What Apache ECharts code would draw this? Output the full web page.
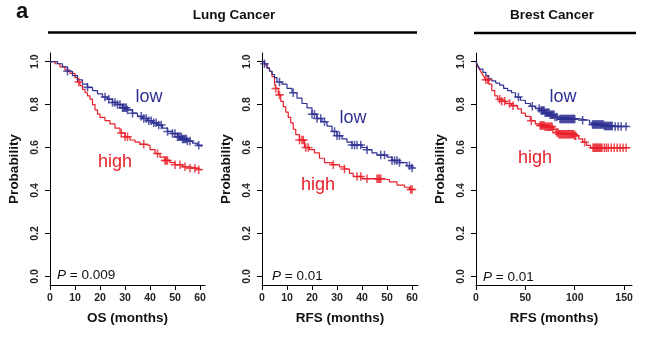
<!DOCTYPE html>
<html>
<head>
<meta charset="utf-8">
<script src="https://cdn.jsdelivr.net/npm/echarts@6/dist/echarts.min.js"></script>
<style>
html,body{margin:0;padding:0;background:#fff;}
#chart{width:652px;height:351px;}
</style>
</head>
<body>
<div id="chart"></div>
<script>
// step points [time, survival]
var osLow=[[0,1],[3,0.99],[5,0.975],[7,0.955],[9,0.935],[11,0.915],[13,0.895],[15,0.88],[17,0.865],[19,0.85],[21,0.835],[23,0.825],[25,0.81],[27,0.8],[29,0.785],[31,0.775],[33,0.76],[35,0.745],[37,0.735],[39,0.725],[41,0.715],[43,0.705],[45,0.69],[47,0.675],[49,0.665],[51,0.65],[53,0.64],[55,0.63],[57,0.62],[59,0.61],[60.5,0.603]];
var osHigh=[[0,1],[2,0.99],[4,0.975],[6,0.96],[8,0.945],[10,0.925],[11,0.905],[12,0.888],[13,0.87],[14,0.855],[15,0.84],[16,0.825],[17,0.8],[18,0.775],[19,0.755],[20,0.74],[22,0.725],[24,0.71],[26,0.69],[28,0.668],[30,0.65],[32,0.635],[34,0.625],[36,0.615],[38,0.61],[40,0.59],[42,0.572],[44,0.555],[46,0.54],[48,0.53],[50,0.52],[53,0.51],[56,0.503],[59,0.497],[60.5,0.497]];
var lungRfsLow=[[0,1],[1,0.99],[2,0.97],[3,0.955],[4,0.94],[5,0.925],[6,0.905],[8,0.895],[10,0.875],[12,0.855],[14,0.83],[16,0.805],[18,0.785],[20,0.755],[22,0.735],[24,0.72],[26,0.7],[28,0.675],[30,0.655],[32,0.64],[34,0.625],[36,0.612],[40,0.6],[42,0.59],[44,0.575],[46,0.565],[50,0.555],[52,0.54],[55,0.53],[58,0.515],[60,0.505],[61,0.505]];
var lungRfsHigh=[[0,1],[1,0.985],[2,0.97],[3,0.955],[4,0.93],[5,0.9],[5.5,0.875],[6.5,0.845],[7.5,0.815],[8.5,0.79],[9.5,0.765],[10.5,0.74],[11.5,0.715],[12.5,0.685],[13.5,0.66],[15,0.635],[17,0.6],[19,0.59],[21,0.575],[23,0.55],[25,0.53],[28,0.52],[31,0.51],[33,0.5],[35,0.48],[36.5,0.465],[40,0.455],[48,0.45],[51,0.44],[54,0.425],[57,0.415],[59,0.405],[61,0.405]];
var breastLow=[[0,1],[2,0.98],[4,0.965],[7,0.95],[10,0.935],[13,0.92],[16,0.91],[20,0.9],[24,0.89],[28,0.875],[32,0.865],[36,0.855],[40,0.835],[45,0.82],[50,0.805],[55,0.792],[60,0.782],[65,0.772],[70,0.762],[75,0.752],[80,0.742],[85,0.733],[105,0.727],[115,0.715],[118,0.707],[130,0.7],[140,0.698],[154,0.698]];
var breastHigh=[[0,1],[2,0.975],[4,0.96],[6,0.945],[8,0.93],[10,0.915],[13,0.895],[16,0.865],[19,0.84],[22,0.825],[26,0.815],[30,0.805],[36,0.795],[42,0.78],[46,0.76],[50,0.745],[55,0.725],[60,0.71],[64,0.703],[70,0.697],[78,0.685],[81,0.67],[84,0.662],[100,0.655],[104,0.64],[108,0.625],[112,0.61],[116,0.599],[156,0.599]];

// censor times
var osLowCens=[7,15,22,23.5,25,26,27,28,29,29.5,30,30.5,31,33,36.5,37.5,38.5,39.5,40.5,41.5,42.5,43.5,44.5,47,49,50,51,51.5,52,52.5,53,53.5,54,54.5,55,56,59.5];
var osHighCens=[11.5,28.5,30,31,37.5,43,46,46.5,47,50,52,54,56,58,59.5];
var lungRfsLowCens=[1,7,12.5,20,21,22,23.5,25,29,30,31,36,37,38,39.5,42,47.5,49,52,53,54,55,59,60];
var lungRfsHighCens=[5.5,7,15,16,16.5,17.5,18.5,28.5,33,38,39.5,42,46,46.5,47,47.5,59.5,60];
var breastLowCens=[43,57,64,66,67,68,69,70,71,72,73,74,75,76,77,78,79,80,82,85,86,87,88,89,90,91,92,93,94,95,96,97,98,99,100,108,118,119,120,121,122,123,124,125,126,127,128,129,130,131,132,133,134,135,136,137,138,141,144,147,152];
var breastHighCens=[10,12,24,26,29,34,37.5,56,65,66,67,68,69,70,71,72,73,74,75,76,77,78,82,83,84,85,86,87,88,89,90,91,92,93,94,95,96,97,98,99,100,101,110,118.5,119.5,120.5,121.5,122.5,123.5,124.5,125.5,126.5,127.5,130,132,134,137,140,143,146,149,152];

var yTicks=[0,0.2,0.4,0.6,0.8,1.0];
var lungXTicks=[0,10,20,30,40,50,60];
var breastXTicks=[0,50,100,150];
var xNames=['OS (months)','RFS (months)','RFS (months)'];

var BLUE='#2e3192', RED='#e8202a';
var FONT='Liberation Sans, Arial, sans-serif';
var PLUS='path://M0,4.1H4.1V0H5.9V4.1H10V5.9H5.9V10H4.1V5.9H0Z';

function survAt(curve,t){
	var s=1;
	for(var i=0;i<curve.length;i++){ if(curve[i][0]<=t) s=curve[i][1]; }
	return s;
}
function censData(curve,times){
	return times.map(function(t){ return [t,survAt(curve,t)]; });
}

var grids=[
	{left:50,top:53,width:155,height:232},
	{left:262,top:53,width:156,height:232},
	{left:476,top:53,width:156,height:232}
];
var xMax=[62,62.4,158];
var xTicks=[lungXTicks,lungXTicks,breastXTicks];

var xAxes=[],yAxes=[];
for(var i=0;i<3;i++){
	xAxes.push({
		type:'value',gridIndex:i,min:0,max:xMax[i],
		name:xNames[i],nameLocation:'middle',nameGap:26,
		nameTextStyle:{fontFamily:FONT,fontWeight:'bold',fontSize:13.5,color:'#111'},
		axisLine:{onZero:false,lineStyle:{color:'#000',width:1}},
		axisTick:{show:true,length:5,customValues:xTicks[i],lineStyle:{color:'#000'}},
		axisLabel:{customValues:xTicks[i],margin:8,fontFamily:FONT,fontWeight:'bold',fontSize:10.5,color:'#222'},
		splitLine:{show:false}
	});
	yAxes.push({
		type:'value',gridIndex:i,min:-0.04,max:1.04,
		name:'Probability',nameLocation:'middle',nameGap:29,
		nameTextStyle:{fontFamily:FONT,fontWeight:'bold',fontSize:13.5,color:'#111'},
		axisLine:{show:true,onZero:false,lineStyle:{color:'#000',width:1}},
		axisTick:{show:true,length:5,customValues:yTicks,lineStyle:{color:'#000'}},
		axisLabel:{customValues:yTicks,rotate:90,margin:9,fontFamily:FONT,fontWeight:'bold',fontSize:10.5,color:'#222',
			formatter:function(v){return v.toFixed(1);}},
		splitLine:{show:false}
	});
}

var curves=[[osLow,osHigh],[lungRfsLow,lungRfsHigh],[breastLow,breastHigh]];
var cens=[[osLowCens,osHighCens],[lungRfsLowCens,lungRfsHighCens],[breastLowCens,breastHighCens]];
var series=[];
for(var i=0;i<3;i++){
	var cols=[BLUE,RED];
	for(var j=1;j>=0;j--){
		series.push({type:'line',xAxisIndex:i,yAxisIndex:i,step:'end',showSymbol:false,
			data:curves[i][j],lineStyle:{color:cols[j],width:1.2},silent:true,z:2});
		series.push({type:'scatter',xAxisIndex:i,yAxisIndex:i,symbol:PLUS,symbolSize:8.5,
			data:censData(curves[i][j],cens[i][j]),itemStyle:{color:cols[j]},silent:true,z:3});
	}
}

function txt(x,y,s,size,color,align,weight){
	return {type:'text',x:x,y:y,style:{text:s,font:(weight||'normal')+' '+size+'px '+FONT,fill:color,
		textAlign:align||'center',textVerticalAlign:'middle'}};
}
function pTxt(x,y,v){
	return {type:'text',x:x,y:y,style:{text:'{i|P} = '+v,fill:'#111',textAlign:'left',textVerticalAlign:'middle',
		font:'13.5px '+FONT,rich:{i:{fontStyle:'italic',fontSize:13.5,fontFamily:FONT,fill:'#111'}}}};
}

var graphics=[
	txt(16,12,'a',22,'#111','left','bold'),
	txt(234,15,'Lung Cancer',13.5,'#111','center','bold'),
	txt(552,15,'Brest Cancer',13.5,'#111','center','bold'),
	{type:'line',shape:{x1:48,y1:32.5,x2:417,y2:32.5},style:{stroke:'#000',lineWidth:2.5}},
	{type:'line',shape:{x1:474,y1:33,x2:636,y2:33},style:{stroke:'#000',lineWidth:2.5}},
	txt(149,97,'low',18,BLUE),
	txt(115,162,'high',18,RED),
	txt(353,118,'low',18,BLUE),
	txt(318,185,'high',18,RED),
	txt(563,97,'low',18,BLUE),
	txt(535,158,'high',18,RED),
	pTxt(57,275,'0.009'),
	pTxt(272,276,'0.01'),
	pTxt(483,277,'0.01')
];

var chart=echarts.init(document.getElementById('chart'),null,{renderer:'canvas'});
chart.setOption({
	animation:false,
	backgroundColor:'#fff',
	grid:grids,
	xAxis:xAxes,
	yAxis:yAxes,
	series:series,
	graphic:graphics
});
</script>
</body>
</html>
